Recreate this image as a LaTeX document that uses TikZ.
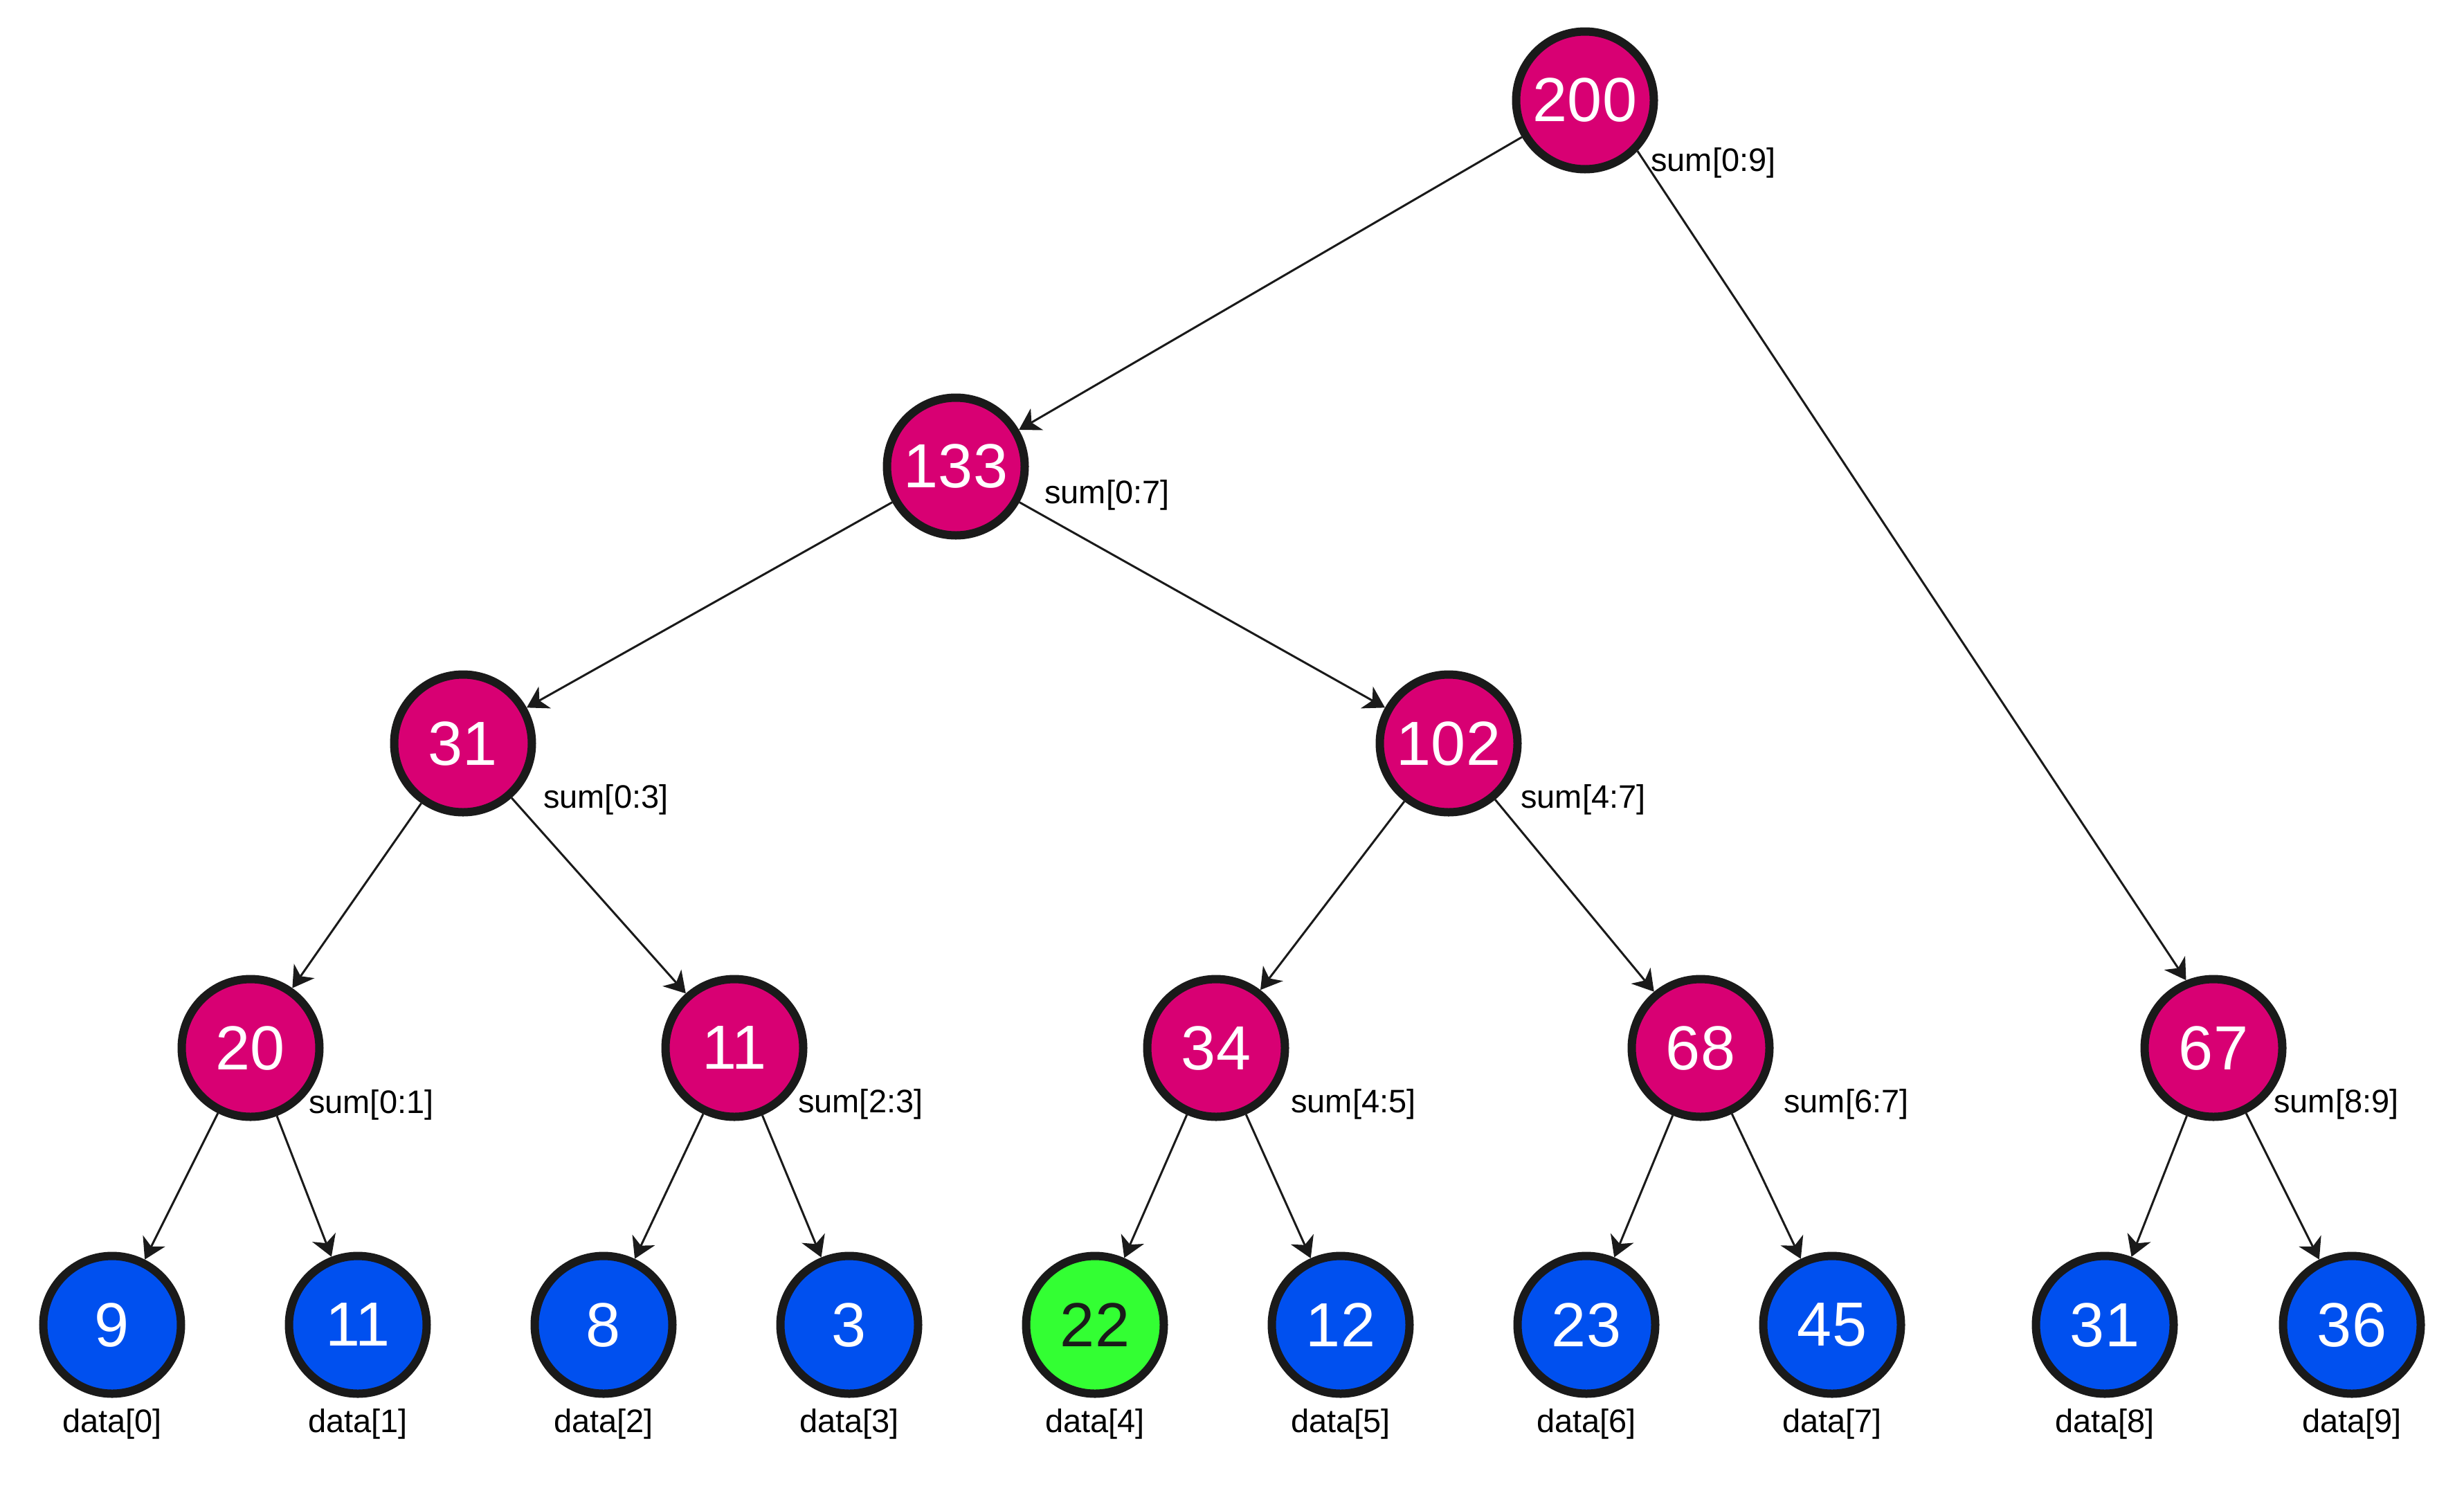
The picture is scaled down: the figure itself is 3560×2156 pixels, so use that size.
\documentclass[tikz,border=0pt]{standalone}
\usepackage{fontspec}
\setmainfont{Liberation Sans}
\usetikzlibrary{arrows.meta}
\definecolor{pinkfill}{HTML}{D80073}
\definecolor{bluefill}{HTML}{0050EF}
\definecolor{greenfill}{HTML}{33FF33}
\definecolor{ink}{HTML}{1A1A1A}
\begin{document}
\begin{tikzpicture}[x=1pt,y=-1pt,
  sumnode/.style={circle, draw=ink, line width=12pt, fill=pinkfill, text=white,
    minimum size=199pt, inner sep=0pt, font=\fontsize{90}{90}\selectfont},
  leafnode/.style={sumnode, fill=bluefill},
  hitnode/.style={sumnode, fill=greenfill, text=ink},
  lbl/.style={font=\fontsize{47}{47}\selectfont, text=black, inner sep=0pt},
  sumlbl/.style={lbl, anchor=base west},
  datalbl/.style={lbl, anchor=base},
  link/.style={draw=ink, line width=3pt, -{Stealth[length=30pt,width=36pt,inset=9pt]}}]
\useasboundingbox (0,0) rectangle (3560,2156);

% internal nodes
\node[sumnode] (n200) at (2290,145) {200};
\node[sumnode] (n133) at (1381,674) {133};
\node[sumnode] (n31)  at (669,1074) {31};
\node[sumnode] (n102) at (2093,1074) {102};
\node[sumnode] (n20)  at (362,1514) {20};
\node[sumnode] (n11)  at (1061,1514) {11};
\node[sumnode] (n34)  at (1757,1514) {34};
\node[sumnode] (n68)  at (2457,1514) {68};
\node[sumnode] (n67)  at (3198,1514) {67};

% leaves
\node[leafnode] (d0) at (162,1914) {9};
\node[leafnode] (d1) at (517,1914) {11};
\node[leafnode] (d2) at (872,1914) {8};
\node[leafnode] (d3) at (1227,1914) {3};
\node[hitnode]  (d4) at (1582,1914) {22};
\node[leafnode] (d5) at (1937,1914) {12};
\node[leafnode] (d6) at (2292,1914) {23};
\node[leafnode] (d7) at (2647,1914) {45};
\node[leafnode] (d8) at (3041,1914) {31};
\node[leafnode] (d9) at (3398,1914) {36};

% sum labels
\node[sumlbl] (s09) at (2385,247) {sum[0:9]};
\node[sumlbl] (s07) at (1509,727) {sum[0:7]};
\node[sumlbl] (s03) at (785,1167) {sum[0:3]};
\node[sumlbl] (s47) at (2197,1167) {sum[4:7]};
\node[sumlbl] (s01) at (446,1608) {sum[0:1]};
\node[sumlbl] (s23) at (1153,1607) {sum[2:3]};
\node[sumlbl] (s45) at (1865,1607) {sum[4:5]};
\node[sumlbl] (s67) at (2577,1607) {sum[6:7]};
\node[sumlbl] (s89) at (3285,1607) {sum[8:9]};

% data labels
\node[datalbl] (l0) at (162,2069) {data[0]};
\node[datalbl] (l1) at (517,2069) {data[1]};
\node[datalbl] (l2) at (872,2069) {data[2]};
\node[datalbl] (l3) at (1227,2069) {data[3]};
\node[datalbl] (l4) at (1582,2069) {data[4]};
\node[datalbl] (l5) at (1937,2069) {data[5]};
\node[datalbl] (l6) at (2292,2069) {data[6]};
\node[datalbl] (l7) at (2647,2069) {data[7]};
\node[datalbl] (l8) at (3041,2069) {data[8]};
\node[datalbl] (l9) at (3398,2069) {data[9]};

% connectors
\draw[link] (n200) -- (n133);
\draw[link] (n200.-44) -- (n67.112);
\draw[link] (n133) -- (n31);
\draw[link] (n133) -- (n102);
\draw[link] (n31) -- (n20);
\draw[link] (n31) -- (n11);
\draw[link] (n102) -- (n34);
\draw[link] (n102) -- (n68);
\draw[link] (n20) -- (d0);
\draw[link] (n20) -- (d1);
\draw[link] (n11) -- (d2);
\draw[link] (n11) -- (d3);
\draw[link] (n34) -- (d4);
\draw[link] (n34) -- (d5);
\draw[link] (n68) -- (d6);
\draw[link] (n68) -- (d7);
\draw[link] (n67) -- (d8);
\draw[link] (n67) -- (d9);
\end{tikzpicture}
\end{document}
